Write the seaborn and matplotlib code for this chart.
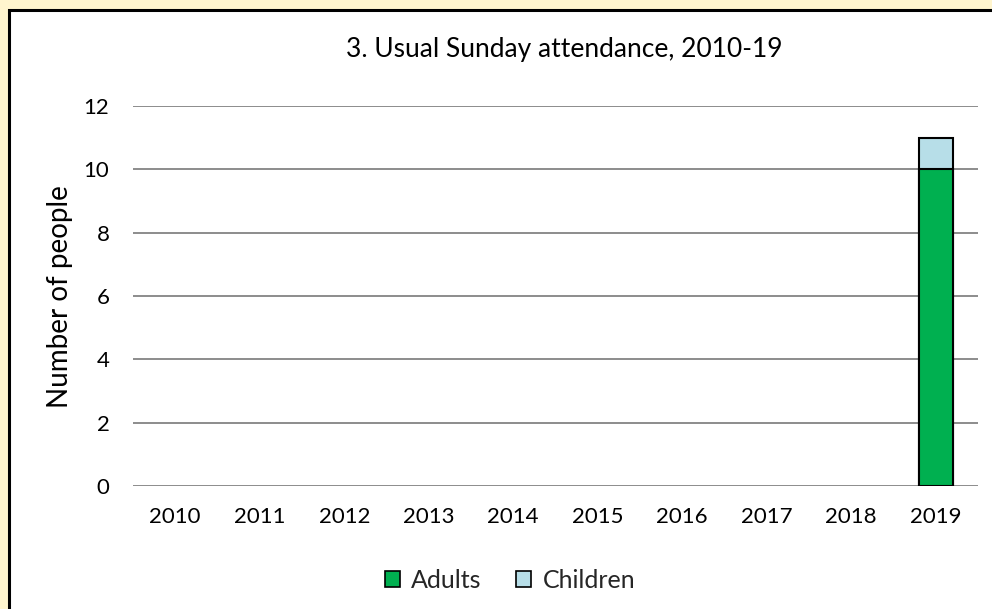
import numpy as np
import pandas as pd
import matplotlib
matplotlib.use("Agg")
import matplotlib.pyplot as plt
from matplotlib.patches import Patch, Rectangle
import seaborn as sns

years = ["2010", "2011", "2012", "2013", "2014", "2015", "2016", "2017", "2018", "2019"]
adults = [np.nan, np.nan, np.nan, np.nan, np.nan, np.nan, np.nan, np.nan, np.nan, 10]
children = [np.nan, np.nan, np.nan, np.nan, np.nan, np.nan, np.nan, np.nan, np.nan, 1]
yticks = [0, 2, 4, 6, 8, 10, 12]

sns.set_theme(style="white")
plt.rcParams['font.family'] = ['Lato', 'DejaVu Sans']

df = pd.DataFrame({"year": years, "Adults": adults, "Children": children})
df["Total"] = df["Adults"] + df["Children"]

fig = plt.figure(figsize=(9.92, 6.09), dpi=100, facecolor="#FFF5CE")
border = Rectangle((8.5 / 992, -0.1), 1.2, 1 - 9.5 / 609 + 0.1,
                   transform=fig.transFigure, facecolor="white",
                   edgecolor="black", linewidth=2.2, zorder=-5)
fig.add_artist(border)
ax = fig.add_axes([133 / 992, 1 - 486 / 609, (978 - 133) / 992, (486 - 106) / 609])
ax.set_zorder(2)
ax.set_facecolor("none")

c_adult = "#00B050"
c_child = "#B7DEE8"
sns.barplot(data=df, x="year", y="Total", order=years, color=c_child,
            edgecolor="black", linewidth=1.5, width=0.4, saturation=1, ax=ax, zorder=3)
sns.barplot(data=df, x="year", y="Adults", order=years, color=c_adult,
            edgecolor="black", linewidth=1.5, width=0.4, saturation=1, ax=ax, zorder=4)

ax.set_ylim(0, 12)
ax.set_yticks(yticks)
ax.set_yticklabels([str(v) for v in yticks])
ax.set_xlim(-0.5, len(years) - 0.5)
ax.yaxis.grid(True, color="#8C8C8C", linewidth=1.4, zorder=0)
ax.set_axisbelow(True)
for s in ax.spines.values():
    s.set_visible(False)
ax.tick_params(axis="both", length=0, labelsize=16, colors="black")
ax.tick_params(axis="y", pad=17)
ax.tick_params(axis="x", pad=15)
ax.set_xlabel("")
ax.set_ylabel("")
fig.text(60 / 992, 1 - 297 / 609, "Number of people", rotation=90, ha="center",
         va="center", fontsize=20, color="black")
fig.text(564 / 992, 1 - 50 / 609, "3. Usual Sunday attendance, 2010-19", ha="center",
         va="center", fontsize=19, color="black")

handles = [Patch(facecolor=c_adult, edgecolor="black", linewidth=1.2, label="Adults"),
           Patch(facecolor=c_child, edgecolor="black", linewidth=1.2, label="Children")]
fig.legend(handles=handles, loc="center", bbox_to_anchor=(510 / 992, 1 - 580 / 609), ncol=2,
           frameon=False, fontsize=18, handlelength=0.6, handleheight=0.6,
           handletextpad=0.45, columnspacing=1.4, borderpad=0, borderaxespad=0)

fig.savefig("out.png", dpi=100, facecolor=fig.get_facecolor())
